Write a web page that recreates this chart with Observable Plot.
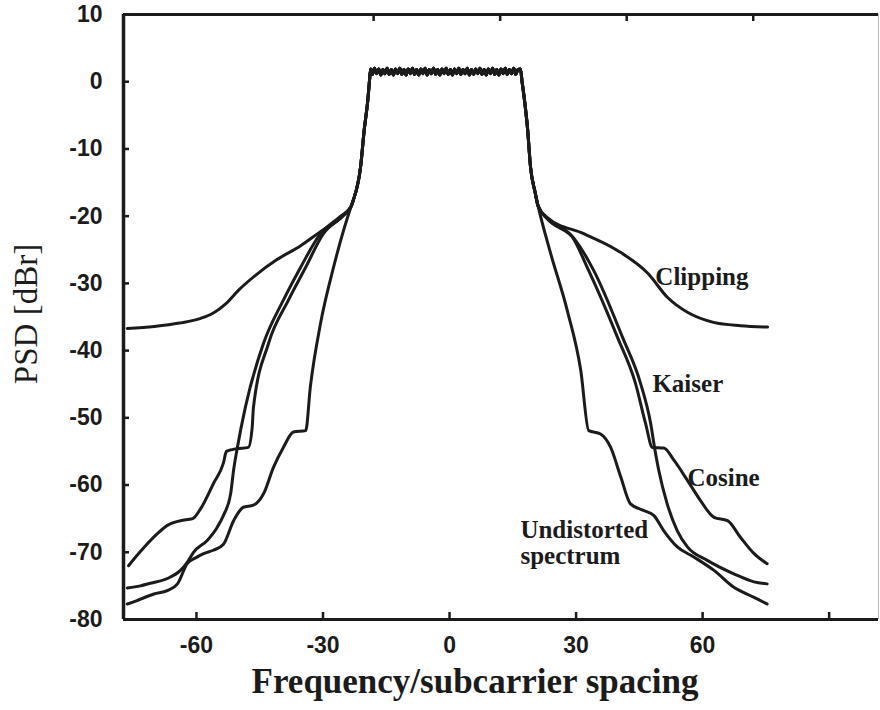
<!DOCTYPE html>
<html>
<head>
<meta charset="utf-8">
<script src="https://cdn.jsdelivr.net/npm/d3@7"></script>
<script src="https://cdn.jsdelivr.net/npm/@observablehq/plot@0.6"></script>
<style>
  html, body { margin: 0; padding: 0; background: #ffffff; }
  #chart { width: 880px; height: 710px; }
</style>
</head>
<body>
<div id="chart"></div>
<script>
// ---- Axes ----
const xDomain = [-77.3, 101.7];
const yDomain = [-80, 10];
const xTicks = [-60, -30, 0, 30, 60, 90];
const xTickLabels = [-60, -30, 0, 30, 60];
const topTicks = [-18, 12, 42, 72];
const yTicks = [10, 0, -10, -20, -30, -40, -50, -60, -70, -80];
const xTitle = "Frequency/subcarrier spacing";
const yTitle = "PSD [dBr]";

// ---- Shared in-band part of every spectrum: rising edge, flat top, falling edge ----
const coreRise = [[-23.3,-18.5],[-22.8,-17.6],[-21.1,-12.7],[-20.2,-7.0],[-19.4,-2.9],[-19.0,0.0]];
const plateau = [
  [-18.7,1.9],[-18.3,1.1],[-17.8,2.0],[-17.3,1.2],[-16.8,1.9],[-16.3,1.0],[-15.8,1.8],[-15.3,1.2],
  [-14.8,2.0],[-14.3,1.1],[-13.8,1.8],[-13.3,1.0],[-12.8,1.9],[-12.3,1.2],[-11.8,2.0],[-11.3,1.1],
  [-10.8,1.8],[-10.3,1.0],[-9.8,1.9],[-9.3,1.2],[-8.8,2.0],[-8.3,1.1],[-7.8,1.8],[-7.3,1.0],
  [-6.8,1.9],[-6.3,1.2],[-5.8,2.0],[-5.3,1.0],[-4.8,1.8],[-4.3,1.2],[-3.8,2.0],[-3.3,1.1],
  [-2.8,1.8],[-2.3,1.0],[-1.8,1.9],[-1.3,1.2],[-0.8,2.0],[-0.3,1.1],[0.2,1.8],[0.7,1.0],
  [1.2,1.9],[1.7,1.2],[2.2,2.0],[2.7,1.1],[3.2,1.8],[3.7,1.2],[4.2,2.0],[4.7,1.0],
  [5.2,1.8],[5.7,1.1],[6.2,1.9],[6.7,1.2],[7.2,2.0],[7.7,1.1],[8.2,1.8],[8.7,1.0],
  [9.2,1.9],[9.7,1.2],[10.2,2.0],[10.7,1.1],[11.2,1.8],[11.7,1.0],[12.2,1.9],[12.7,1.2],
  [13.2,2.0],[13.7,1.1],[14.2,1.8],[14.7,1.2],[15.2,2.0],[15.7,1.1],[16.2,1.8],[16.8,1.9]
];
const coreFall = [[17.2,0.0],[17.8,-2.9],[18.5,-7.0],[19.2,-12.7],[20.3,-16.5],[21.0,-18.5]];

// ---- Out-of-band skirts (left side from the edge inwards, right side outwards) ----
const clippingLeft = [
  [-76.4,-36.7],[-70.0,-36.4],[-64.0,-35.9],[-59.0,-35.2],[-56.0,-34.4],[-53.0,-33.0],
  [-50.0,-31.0],[-46.0,-28.8],[-41.0,-26.5],[-35.3,-24.4],[-30.6,-22.3],[-25.8,-20.3],[-23.8,-19.0]
];
const clippingRight = [
  [23.2,-20.2],[31.8,-22.6],[39.8,-25.1],[47.0,-28.5],[51.7,-32.1],[56.4,-34.3],
  [62.6,-35.8],[69.0,-36.3],[75.4,-36.5]
];

const kaiserLeft = [
  [-76.4,-75.3],[-73.3,-75.0],[-70.9,-74.6],[-66.9,-73.9],[-63.8,-72.7],[-62.2,-71.5],
  [-60.7,-70.0],[-57.4,-68.2],[-55.1,-66.3],[-53.6,-64.5],[-51.9,-61.3],[-51.2,-57.8],
  [-50.3,-54.4],[-48.4,-48.4],[-44.1,-38.9],[-39.4,-32.5],[-35.3,-27.6],[-30.6,-22.6],[-25.8,-20.0]
];
const kaiserRight = [
  [23.2,-20.4],[29.5,-23.3],[34.2,-28.1],[41.0,-38.0],[45.3,-44.9],[47.7,-50.9],[48.6,-54.4],
  [49.6,-57.8],[51.6,-62.8],[54.0,-66.8],[56.4,-69.2],[61.1,-71.2],[67.4,-73.2],[72.2,-74.4],[75.3,-74.7]
];

const cosineLeft = [
  [-76.1,-72.0],[-73.3,-69.9],[-69.2,-67.2],[-66.9,-66.0],[-63.8,-65.3],[-60.9,-65.0],
  [-59.0,-63.5],[-56.0,-59.8],[-53.6,-56.7],[-52.9,-55.0],[-50.5,-54.6],[-47.7,-54.4],
  [-46.8,-51.5],[-46.5,-48.5],[-42.9,-38.9],[-38.2,-32.5],[-34.1,-27.6],[-29.9,-22.6],[-25.4,-20.0]
];
const cosineRight = [
  [23.2,-20.4],[29.1,-23.1],[33.0,-28.1],[39.8,-38.0],[44.1,-44.9],[46.5,-50.9],[48.1,-54.4],
  [50.8,-54.5],[53.2,-56.3],[56.4,-59.3],[59.5,-62.3],[62.7,-64.8],[65.9,-65.3],[69.0,-67.8],
  [72.2,-70.2],[75.3,-71.7]
];

const undistortedLeft = [
  [-76.4,-77.7],[-74.1,-77.2],[-72.6,-76.8],[-70.1,-76.2],[-66.9,-75.7],[-64.5,-74.7],
  [-62.2,-71.7],[-60.1,-70.8],[-58.3,-70.2],[-56.0,-69.7],[-53.6,-68.8],[-51.2,-65.3],
  [-48.9,-63.3],[-46.5,-63.0],[-44.1,-61.3],[-41.7,-57.3],[-39.4,-54.4],[-37.0,-52.1],
  [-34.1,-51.9],[-33.0,-45.4],[-30.6,-36.0],[-27.5,-27.6]
];
const undistortedRight = [
  [24.0,-25.6],[27.9,-34.0],[31.1,-42.9],[33.0,-51.9],[35.8,-52.4],[38.2,-54.4],[40.6,-58.8],
  [42.9,-62.8],[46.1,-63.8],[48.4,-64.5],[50.8,-66.8],[54.0,-69.2],[57.9,-70.7],[62.7,-72.7],
  [67.4,-75.2],[72.2,-76.7],[75.3,-77.7]
];

// ---- Curve annotations ----
const curveLabels = [
  {text: "Clipping", x: 48.8, y: -29.0},
  {text: "Kaiser", x: 48.1, y: -44.9},
  {text: "Cosine", x: 56.4, y: -58.9},
  {text: "Undistorted\nspectrum", x: 16.8, y: -68.6}
];

// Assemble one tidy table of points, one run per curve
const curves = [
  ["Clipping", clippingLeft, clippingRight],
  ["Kaiser", kaiserLeft, kaiserRight],
  ["Cosine", cosineLeft, cosineRight],
  ["Undistorted spectrum", undistortedLeft, undistortedRight]
];
const rows = curves.flatMap(([name, left, right]) =>
  [...left, ...coreRise, ...plateau, ...coreFall, ...right].map(([x, y]) => ({curve: name, x, y}))
);

const ink = "#1b1b1b";
const sans = "'Liberation Sans', Arial, sans-serif";
const serif = "'Liberation Serif', 'Times New Roman', serif";

const chart = Plot.plot({
  width: 880,
  height: 710,
  marginLeft: 123,
  marginRight: 2,
  marginTop: 14,
  marginBottom: 91,
  style: {background: "#ffffff", color: ink, fontFamily: sans},
  x: {domain: xDomain, axis: null},
  y: {domain: yDomain, axis: null},
  marks: [
    // frame
    Plot.ruleY([yDomain[1]], {stroke: ink, strokeWidth: 3}),
    Plot.ruleY([yDomain[0]], {stroke: ink, strokeWidth: 3}),
    Plot.ruleX([xDomain[0]], {stroke: ink, strokeWidth: 3.5}),
    Plot.ruleX([xDomain[1]], {stroke: "#b5b5b5", strokeWidth: 1}),
    // inward ticks
    Plot.axisY(yTicks, {anchor: "left", tickSize: 6, dx: 6, fill: "none", label: null, stroke: ink, strokeWidth: 2.5}),
    Plot.axisY(d3.range(-79, 10, 1), {anchor: "left", tickSize: 2, dx: 2, fill: "none", label: null, stroke: ink, strokeWidth: 1.5}),
    Plot.axisX(xTicks, {anchor: "bottom", tickSize: 7, dy: -7, fill: "none", label: null, stroke: ink, strokeWidth: 2.5}),
    Plot.axisX(topTicks, {anchor: "top", tickSize: 6, dy: 6, fill: "none", label: null, stroke: ink, strokeWidth: 2.5}),
    // tick labels
    Plot.axisY(yTicks, {anchor: "left", tickSize: 0, tickPadding: 21, tickFormat: d => String(d), label: null,
      fontSize: 23, fontWeight: "bold", fill: ink}),
    Plot.axisX(xTickLabels, {anchor: "bottom", tickSize: 0, tickPadding: 17, tickFormat: d => String(d), label: null,
      fontSize: 23, fontWeight: "bold", fill: ink}),
    // axis titles
    Plot.text([xTitle], {frameAnchor: "bottom", text: d => d, dx: -26, dy: 73, lineAnchor: "bottom",
      textAnchor: "middle", fontFamily: serif, fontSize: 35, fontWeight: "bold", fill: ink}),
    Plot.text([yTitle], {frameAnchor: "left", text: d => d, rotate: -90, dx: -97, dy: -3, lineAnchor: "middle",
      textAnchor: "middle", fontFamily: serif, fontSize: 33, fill: ink}),
    // spectra
    Plot.line(rows, {x: "x", y: "y", z: "curve", curve: "monotone-x", stroke: ink, strokeWidth: 3,
      strokeLinejoin: "round"}),
    // curve names
    Plot.text(curveLabels, {x: "x", y: "y", text: "text", textAnchor: "start", lineAnchor: "middle",
      lineHeight: 1.05, fontFamily: serif, fontSize: 25, fontWeight: "bold", fill: ink})
  ]
});

document.getElementById("chart").append(chart);
</script>
</body>
</html>
